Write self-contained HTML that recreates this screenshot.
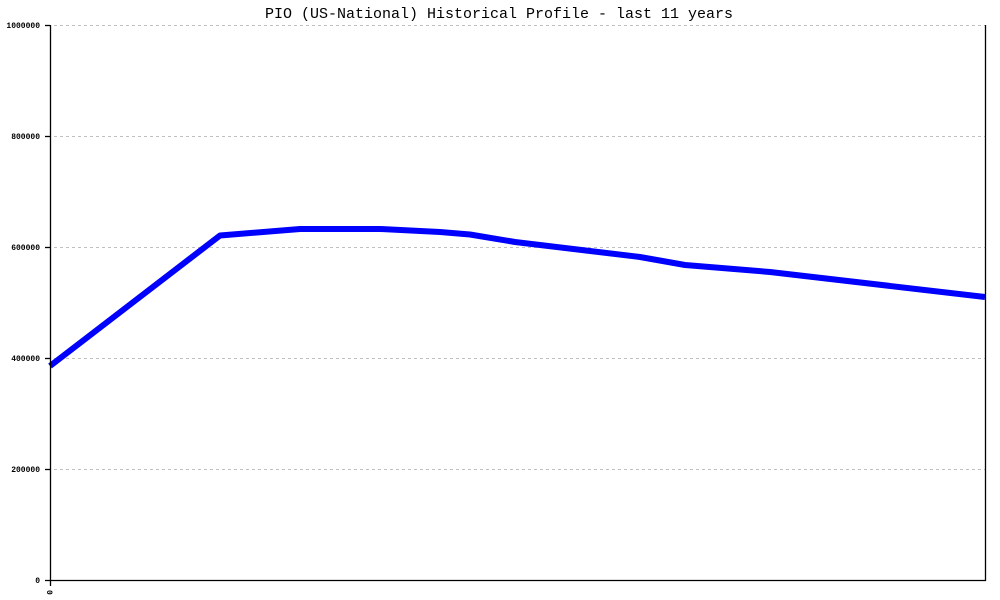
<!DOCTYPE html>
<html><head><meta charset="utf-8"><style>
html,body{margin:0;padding:0;background:#fff;}
svg{display:block;}
</style></head><body>
<svg width="1000" height="600" viewBox="0 0 1000 600" xmlns="http://www.w3.org/2000/svg">
<rect width="1000" height="600" fill="#fff"/>
<text x="499" y="18" text-anchor="middle" font-family="Liberation Mono, monospace" font-size="15" fill="#000">PIO (US-National) Historical Profile - last 11 years</text>
<g stroke="#c0c0c0" stroke-width="1" stroke-dasharray="3,3">
<line x1="54" y1="25.5" x2="985" y2="25.5"/>
<line x1="54" y1="136.5" x2="985" y2="136.5"/>
<line x1="54" y1="247.5" x2="985" y2="247.5"/>
<line x1="54" y1="358.5" x2="985" y2="358.5"/>
<line x1="54" y1="469.5" x2="985" y2="469.5"/>
</g>
<polyline fill="none" stroke="#0000ff" stroke-width="6" stroke-linejoin="round" points="50,366 220,235.5 300,229 380,229 440,232 470,234.5 515,242 640,257 685,265 770,272 985,297"/>
<g stroke="#000" stroke-width="1.3">
<line x1="50.5" y1="25" x2="50.5" y2="586"/>
<line x1="985.5" y1="25" x2="985.5" y2="581"/>
<line x1="45" y1="580.5" x2="986" y2="580.5"/>
<line x1="45" y1="25.5" x2="50" y2="25.5"/>
<line x1="45" y1="136.5" x2="50" y2="136.5"/>
<line x1="45" y1="247.5" x2="50" y2="247.5"/>
<line x1="45" y1="358.5" x2="50" y2="358.5"/>
<line x1="45" y1="469.5" x2="50" y2="469.5"/>
</g>
<g font-family="Liberation Mono, monospace" font-size="8" font-weight="bold" fill="#000" text-anchor="end">
<text x="40" y="28">1000000</text>
<text x="40" y="139">800000</text>
<text x="40" y="250">600000</text>
<text x="40" y="361">400000</text>
<text x="40" y="472">200000</text>
<text x="40" y="583">0</text>
</g>
<text transform="translate(47,590) rotate(90)" font-family="Liberation Mono, monospace" font-size="8" font-weight="bold" fill="#000">0</text>
</svg>
</body></html>
